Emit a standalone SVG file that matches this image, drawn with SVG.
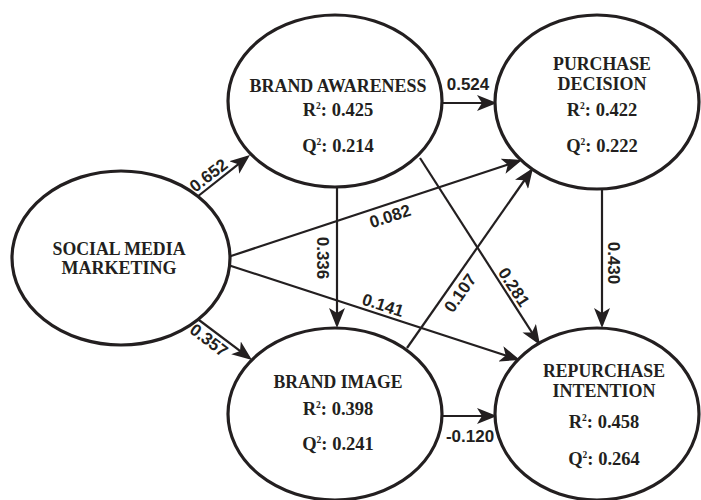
<svg xmlns="http://www.w3.org/2000/svg" width="701" height="500" viewBox="0 0 701 500">
<style>
.node ellipse{fill:#fff;stroke:#231f20;stroke-width:3.2}
.nt{font-family:"Liberation Serif","Times New Roman",serif;font-weight:bold;font-size:19px;fill:#231f20;text-anchor:middle}
.nv{font-family:"Liberation Serif","Times New Roman",serif;font-weight:bold;font-size:18.5px;fill:#231f20;text-anchor:middle}
.sup{font-size:9.5px}
.conn line{stroke:#231f20;stroke-width:2.2;marker-end:url(#ah)}
.el{font-family:"Liberation Sans",Arial,sans-serif;font-weight:bold;font-size:17px;fill:#231f20;text-anchor:middle}
</style>
<defs>
<marker id="ah" viewBox="0 0 20 16" refX="17" refY="8" markerWidth="20" markerHeight="16" markerUnits="userSpaceOnUse" orient="auto">
<path d="M0,0 L20,8 L0,16 L5,8 Z" fill="#231f20"/>
</marker>
</defs>
<rect width="701" height="500" fill="#fff"/>
<g id="connectors" class="conn">
<line x1="197" y1="197" x2="247.6" y2="156.9"/>
<line x1="195" y1="317" x2="249.6" y2="358.2"/>
<line x1="228" y1="257" x2="519.2" y2="160.9"/>
<line x1="228" y1="265" x2="517.1" y2="359.1"/>
<line x1="337" y1="187" x2="337" y2="325"/>
<line x1="443" y1="103" x2="494" y2="103"/>
<line x1="420" y1="158" x2="538.4" y2="342.5"/>
<line x1="407" y1="348" x2="531.3" y2="170.5"/>
<line x1="443" y1="416" x2="494" y2="416"/>
<line x1="602" y1="189" x2="602" y2="325"/>
</g>
<g id="edge-labels">
<text class="el" transform="translate(209,176) rotate(-38)" y="5">0.652</text>
<text class="el" transform="translate(209,340) rotate(37)" y="6">0.357</text>
<text class="el" transform="translate(390,216) rotate(-18)" y="6">0.082</text>
<text class="el" transform="translate(383,305) rotate(18)" y="6">0.141</text>
<text class="el" transform="translate(323,258) rotate(90)" y="6">0.336</text>
<text class="el" x="468" y="90">0.524</text>
<text class="el" x="470" y="442">-0.120</text>
<text class="el" transform="translate(460,293) rotate(-55)" y="6">0.107</text>
<text class="el" transform="translate(514,287) rotate(57)" y="6">0.281</text>
<text class="el" transform="translate(614,263) rotate(90)" y="6">0.430</text>
</g>
<g id="smm" class="node">
<ellipse cx="121" cy="258" rx="109" ry="87"/>
<text class="nt" x="119" y="255" textLength="133" lengthAdjust="spacingAndGlyphs">SOCIAL MEDIA</text>
<text class="nt" x="119" y="274" textLength="115" lengthAdjust="spacingAndGlyphs">MARKETING</text>
</g>
<g id="ba" class="node">
<ellipse cx="335" cy="101" rx="107" ry="86"/>
<text class="nt" x="338" y="92" textLength="177" lengthAdjust="spacingAndGlyphs">BRAND AWARENESS</text>
<text class="nv" x="338" y="116">R<tspan class="sup" dy="-7">2</tspan><tspan dy="7">: 0.425</tspan></text>
<text class="nv" x="338" y="152">Q<tspan class="sup" dy="-7">2</tspan><tspan dy="7">: 0.214</tspan></text>
</g>
<g id="pd" class="node">
<ellipse cx="597" cy="102" rx="102" ry="87"/>
<text class="nt" x="602" y="70" textLength="98" lengthAdjust="spacingAndGlyphs">PURCHASE</text>
<text class="nt" x="602" y="90" textLength="89" lengthAdjust="spacingAndGlyphs">DECISION</text>
<text class="nv" x="602" y="116">R<tspan class="sup" dy="-7">2</tspan><tspan dy="7">: 0.422</tspan></text>
<text class="nv" x="602" y="152">Q<tspan class="sup" dy="-7">2</tspan><tspan dy="7">: 0.222</tspan></text>
</g>
<g id="bi" class="node">
<ellipse cx="335" cy="414" rx="107" ry="86"/>
<text class="nt" x="338" y="388" textLength="129" lengthAdjust="spacingAndGlyphs">BRAND IMAGE</text>
<text class="nv" x="338" y="415">R<tspan class="sup" dy="-7">2</tspan><tspan dy="7">: 0.398</tspan></text>
<text class="nv" x="338" y="450">Q<tspan class="sup" dy="-7">2</tspan><tspan dy="7">: 0.241</tspan></text>
</g>
<g id="ri" class="node">
<ellipse cx="597" cy="414" rx="102" ry="86"/>
<text class="nt" x="604" y="377" textLength="122" lengthAdjust="spacingAndGlyphs">REPURCHASE</text>
<text class="nt" x="604" y="397" textLength="103" lengthAdjust="spacingAndGlyphs">INTENTION</text>
<text class="nv" x="604" y="428">R<tspan class="sup" dy="-7">2</tspan><tspan dy="7">: 0.458</tspan></text>
<text class="nv" x="604" y="465">Q<tspan class="sup" dy="-7">2</tspan><tspan dy="7">: 0.264</tspan></text>
</g>
</svg>
